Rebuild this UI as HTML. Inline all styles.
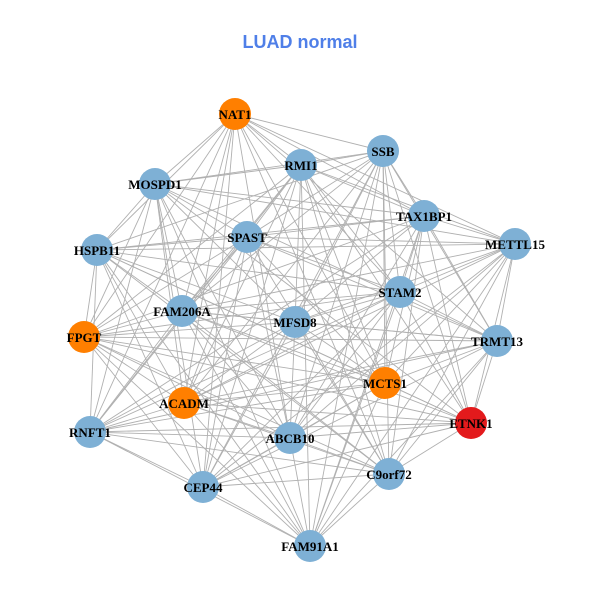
<!DOCTYPE html>
<html><head><meta charset="utf-8"><style>
html,body{margin:0;padding:0;background:#fff;width:600px;height:600px;overflow:hidden}
</style></head><body>
<svg id="g" width="600" height="600" xmlns="http://www.w3.org/2000/svg">
<rect width="600" height="600" fill="#fff"/>
<text x="300" y="48" text-anchor="middle" font-family="Liberation Sans, sans-serif" font-weight="bold" font-size="18" fill="#4f7fe8">LUAD normal</text>
<g id="edges" stroke="#b0b0b0" stroke-width="0.9"></g>
<g id="nodes"></g>
</svg>
<script>
var N=[["NAT1",235,114,"#ff7f00"],["SSB",383,151,"#7eb0d5"],["RMI1",301,165,"#7eb0d5"],["MOSPD1",155,184,"#7eb0d5"],["TAX1BP1",424,216,"#7eb0d5"],["SPAST",247,237,"#7eb0d5"],["METTL15",515,244,"#7eb0d5"],["HSPB11",97,250,"#7eb0d5"],["STAM2",400,292,"#7eb0d5"],["FAM206A",182,311,"#7eb0d5"],["MFSD8",295,322,"#7eb0d5"],["FPGT",84,337,"#ff7f00"],["TRMT13",497,341,"#7eb0d5"],["MCTS1",385,383,"#ff7f00"],["ACADM",184,403,"#ff7f00"],["ETNK1",471,423,"#e31a1c"],["RNFT1",90,432,"#7eb0d5"],["ABCB10",290,438,"#7eb0d5"],["C9orf72",389,474,"#7eb0d5"],["CEP44",203,487,"#7eb0d5"],["FAM91A1",310,546,"#7eb0d5"]];
var ns="http://www.w3.org/2000/svg",E=document.getElementById("edges"),G=document.getElementById("nodes");
for(var i=0;i<N.length;i++)for(var j=i+1;j<N.length;j++){
 if((i*7+j*3)%5==0)continue;
 var l=document.createElementNS(ns,"line");
 l.setAttribute("x1",N[i][1]);l.setAttribute("y1",N[i][2]);l.setAttribute("x2",N[j][1]);l.setAttribute("y2",N[j][2]);E.appendChild(l);}
N.forEach(function(n){
 var c=document.createElementNS(ns,"circle");c.setAttribute("cx",n[1]);c.setAttribute("cy",n[2]);c.setAttribute("r",16);c.setAttribute("fill",n[3]);G.appendChild(c);
 var t=document.createElementNS(ns,"text");t.setAttribute("x",n[1]);t.setAttribute("y",n[2]+5);t.setAttribute("text-anchor","middle");
 t.setAttribute("font-family","Liberation Serif, serif");t.setAttribute("font-weight","bold");t.setAttribute("font-size","13");t.setAttribute("fill","#000");
 t.textContent=n[0];G.appendChild(t);});
</script>
</body></html>
